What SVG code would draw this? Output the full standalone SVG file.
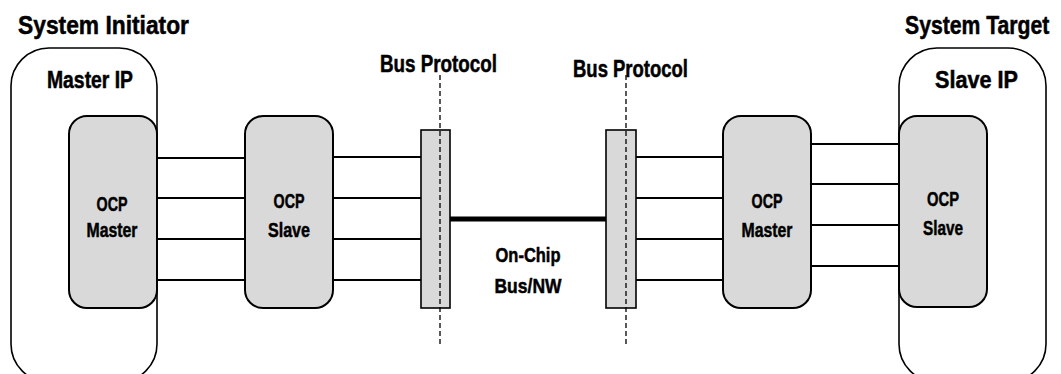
<svg xmlns="http://www.w3.org/2000/svg" width="1061" height="374" viewBox="0 0 1061 374">
<style>
.bg{fill:#ffffff}
.outer{fill:none;stroke:#000;stroke-width:1.6}
.blk{fill:#d9d9d9;stroke:#000;stroke-width:2}
.bar{fill:#d9d9d9;stroke:#000;stroke-width:1.6}
.wire{stroke:#000;stroke-width:2;fill:none}
.bus{stroke:#000;stroke-width:5;fill:none}
.dash{stroke:#000;stroke-width:1.3;stroke-dasharray:5 3;fill:none}
text{font-family:"Liberation Sans",Arial,sans-serif;font-weight:bold;fill:#000;stroke:#000;stroke-width:0.5}
.title{font-size:26px}
.lbl{font-size:23px}
.in{font-size:21px;text-anchor:middle}
</style>
<rect class="bg" x="0" y="0" width="1061" height="374"/>
<g id="titles">
<text class="title" x="18" y="34" textLength="171" lengthAdjust="spacingAndGlyphs">System Initiator</text>
<text class="title" transform="translate(905,34) scale(0.815,1)" x="0" y="0">System Target</text>
</g>
<g id="master_ip">
<rect class="outer" x="11" y="48" width="146" height="334" rx="38" ry="38"/>
<text class="lbl" x="47" y="88" textLength="86" lengthAdjust="spacingAndGlyphs">Master IP</text>
</g>
<g id="slave_ip">
<rect class="outer" x="899" y="48" width="147" height="334" rx="38" ry="38"/>
<text class="lbl" x="935" y="88" textLength="83" lengthAdjust="spacingAndGlyphs">Slave IP</text>
</g>
<g id="connectors">
<line class="wire" x1="157" y1="158" x2="245" y2="158"/>
<line class="wire" x1="157" y1="198" x2="245" y2="198"/>
<line class="wire" x1="157" y1="239" x2="245" y2="239"/>
<line class="wire" x1="157" y1="280" x2="245" y2="280"/>
<line class="wire" x1="333" y1="157" x2="421" y2="157"/>
<line class="wire" x1="333" y1="198" x2="421" y2="198"/>
<line class="wire" x1="333" y1="239" x2="421" y2="239"/>
<line class="wire" x1="333" y1="280" x2="421" y2="280"/>
<line class="bus" x1="450" y1="219" x2="606" y2="219"/>
<line class="wire" x1="636" y1="157" x2="723" y2="157"/>
<line class="wire" x1="636" y1="198" x2="723" y2="198"/>
<line class="wire" x1="636" y1="239" x2="723" y2="239"/>
<line class="wire" x1="636" y1="280" x2="723" y2="280"/>
<line class="wire" x1="811" y1="144" x2="899" y2="144"/>
<line class="wire" x1="811" y1="184" x2="899" y2="184"/>
<line class="wire" x1="811" y1="225" x2="899" y2="225"/>
<line class="wire" x1="811" y1="266" x2="899" y2="266"/>
</g>
<g id="ocp_master_l">
<rect class="blk" x="69" y="116" width="88" height="192" rx="18" ry="18"/>
<text class="in" x="112" y="211" textLength="31" lengthAdjust="spacingAndGlyphs">OCP</text>
<text class="in" x="112" y="237" textLength="51" lengthAdjust="spacingAndGlyphs">Master</text>
</g>
<g id="ocp_slave_l">
<rect class="blk" x="245" y="116" width="88" height="192" rx="18" ry="18"/>
<text class="in" x="289" y="208" textLength="31" lengthAdjust="spacingAndGlyphs">OCP</text>
<text class="in" x="289" y="237" textLength="42" lengthAdjust="spacingAndGlyphs">Slave</text>
</g>
<g id="bus_protocol_l">
<rect class="bar" x="421" y="130" width="29" height="178"/>
<line class="dash" x1="440" y1="75" x2="440" y2="345"/>
<text class="lbl" x="438.5" y="72" text-anchor="middle" textLength="117" lengthAdjust="spacingAndGlyphs">Bus Protocol</text>
</g>
<g id="bus_protocol_r">
<rect class="bar" x="606" y="130" width="30" height="178"/>
<line class="dash" x1="626" y1="75" x2="626" y2="345"/>
<text class="lbl" x="630.5" y="77" text-anchor="middle" textLength="115" lengthAdjust="spacingAndGlyphs">Bus Protocol</text>
</g>
<g id="onchip_bus">
<text class="in" x="528" y="262" textLength="65" lengthAdjust="spacingAndGlyphs">On-Chip</text>
<text class="in" x="528" y="293" textLength="67" lengthAdjust="spacingAndGlyphs">Bus/NW</text>
</g>
<g id="ocp_master_r">
<rect class="blk" x="723" y="116" width="88" height="192" rx="18" ry="18"/>
<text class="in" x="767" y="208" textLength="31" lengthAdjust="spacingAndGlyphs">OCP</text>
<text class="in" x="767" y="237" textLength="51" lengthAdjust="spacingAndGlyphs">Master</text>
</g>
<g id="ocp_slave_r">
<rect class="blk" x="899" y="116" width="88" height="191" rx="18" ry="18"/>
<text class="in" x="943" y="206" textLength="32" lengthAdjust="spacingAndGlyphs">OCP</text>
<text class="in" x="943" y="235" textLength="40" lengthAdjust="spacingAndGlyphs">Slave</text>
</g>
</svg>
